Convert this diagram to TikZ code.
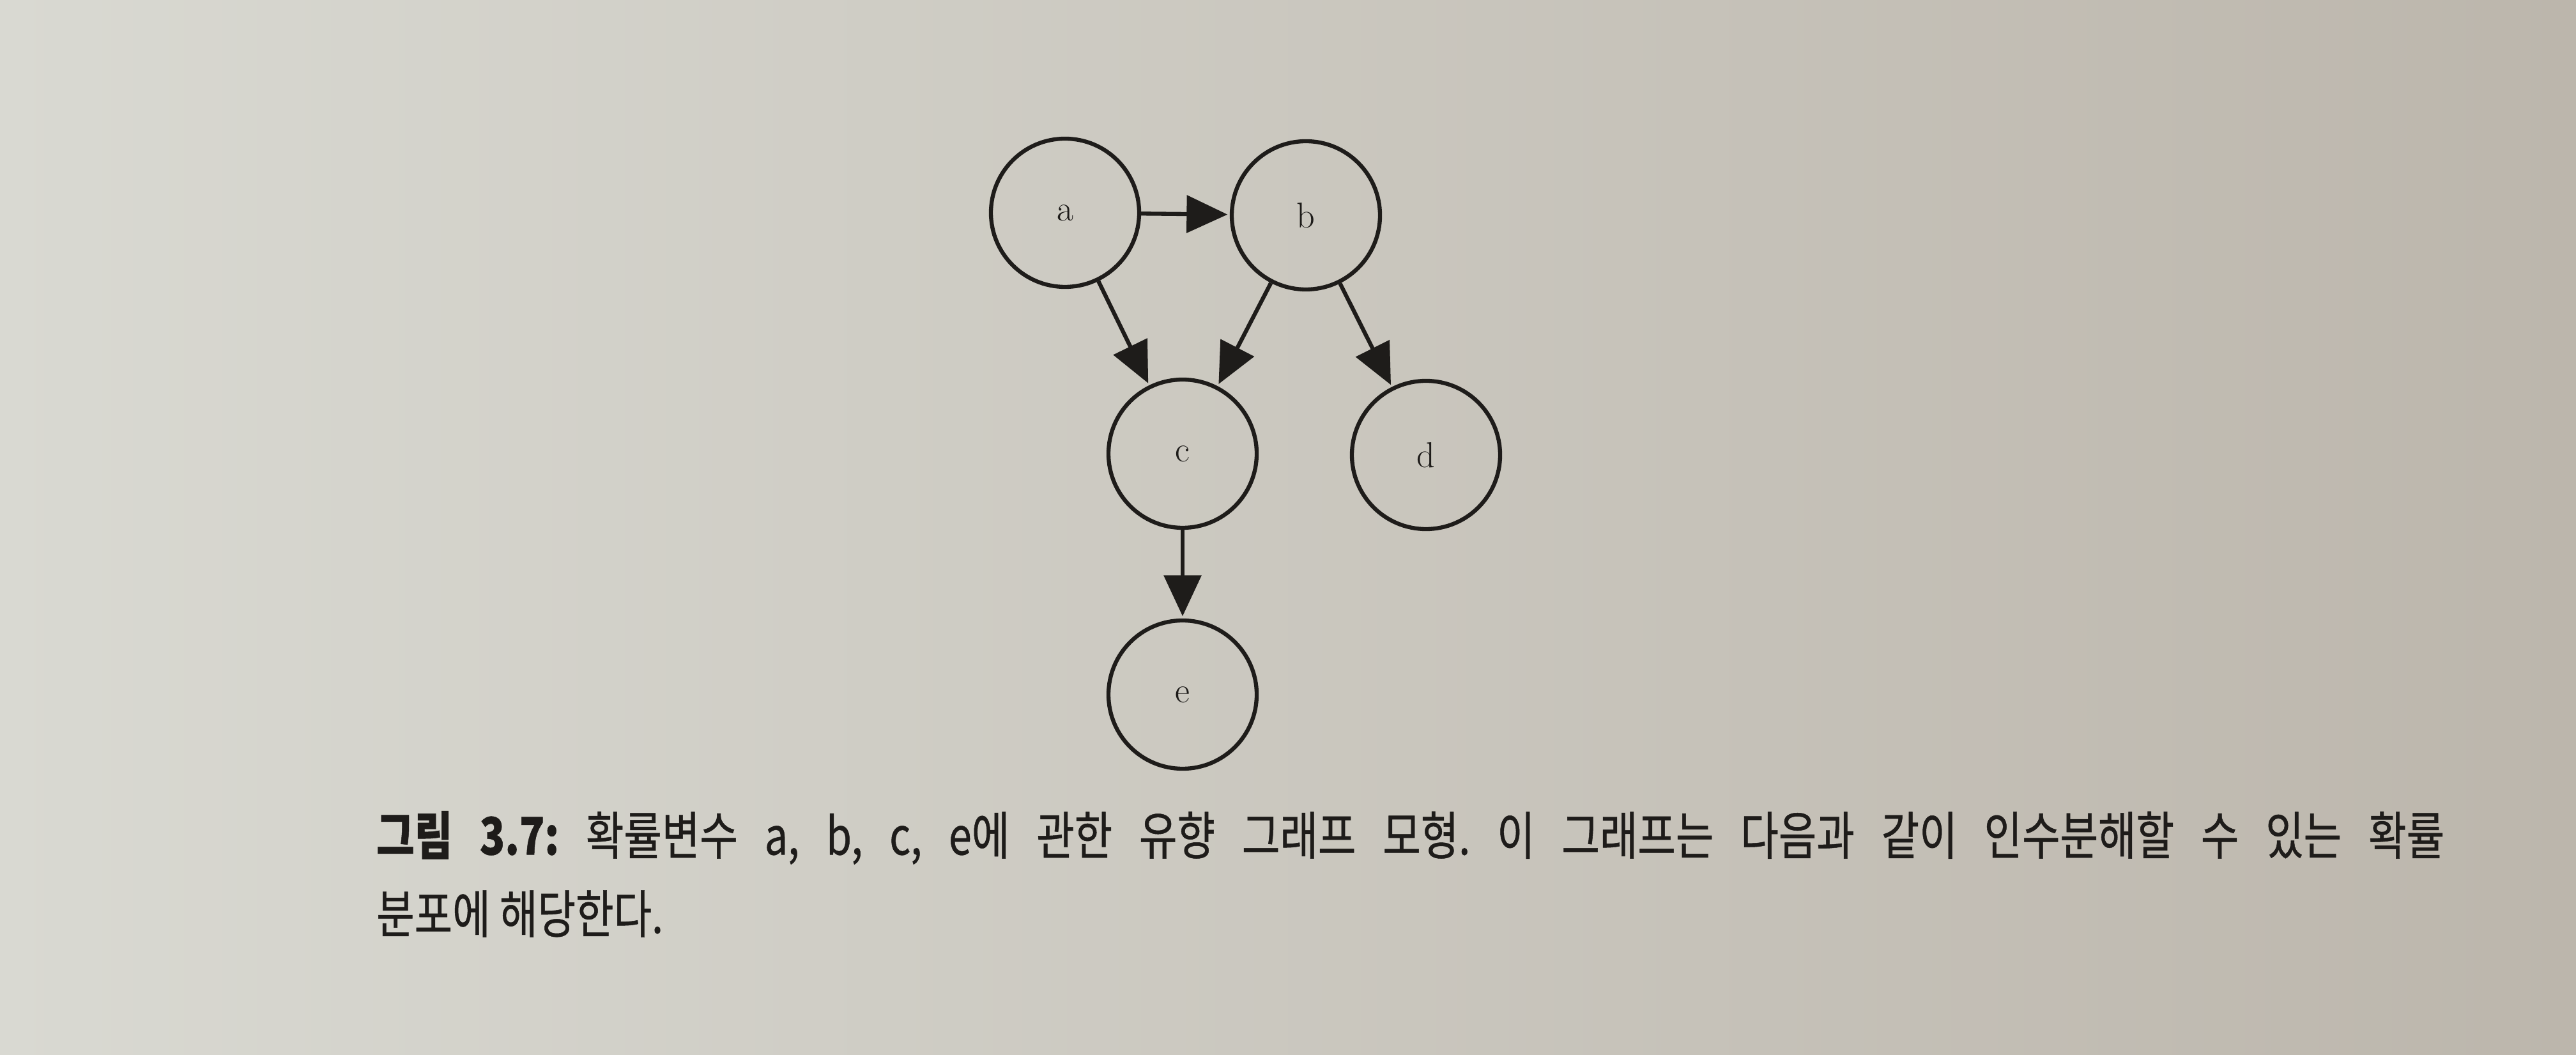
\documentclass[tikz,border=0pt]{standalone}
\usepackage{fontspec}
\usepackage{tikz}
\usetikzlibrary{arrows,arrows.meta,automata,positioning}

\newfontfamily\krfont{Noto Sans CJK KR}[FakeStretch=0.8, FakeBold=0.6]
\definecolor{paperleft}{HTML}{D9D9D2}
\definecolor{paperright}{HTML}{BCB6AC}
\definecolor{ink}{HTML}{1E1C1A}

\begin{document}
\frenchspacing
\begin{tikzpicture}[->,>={Triangle[length=6.4mm,width=5.8mm]},shorten >=1pt,node distance=3.77cm, line width=1.8pt, color=ink]

        % paper
        \shade[-, left color=paperleft, right color=paperright] (0,0) rectangle (40.32,16.51);
        \useasboundingbox (0,0) rectangle (40.32,16.51);

        \tikzstyle{every state}=[fill=none,draw=ink,text=ink, minimum size=2.32cm, inner sep=0pt, font=\fontsize{16}{19}\selectfont]
        \tikzstyle{caption}=[anchor=west, inner sep=0pt, text=ink, font=\krfont\fontsize{23}{27}\selectfont]

        \node[state]   (a) at (16.67,13.18)                  {a};
        \node[state]   (b) [right of = a, yshift=-0.04cm]    {b};
        \node[state]   (c) [below of = a, xshift=1.84cm]     {c};
        \node[state]   (d) [below of = b, xshift=1.88cm, yshift=0.02cm] {d};
        \node[state]   (e) [below of = c]                    {e};

        \path
        (a) edge (b)
        (a) edge (c)
        (b) edge (c)
        (b) edge (d)
        (c) edge (e)
    ;

        \node[caption] (cap1) at (5.86,3.40) {\makebox[32.37cm][s]{\textbf{그림 3.7:} 확률변수 a, b, c, e에 관한 유향 그래프 모형. 이 그래프는 다음과 같이 인수분해할 수 있는 확률}};
        \node[caption] (cap2) at (5.86,2.21) {분포에 해당한다.};
    \end{tikzpicture}
\end{document}
